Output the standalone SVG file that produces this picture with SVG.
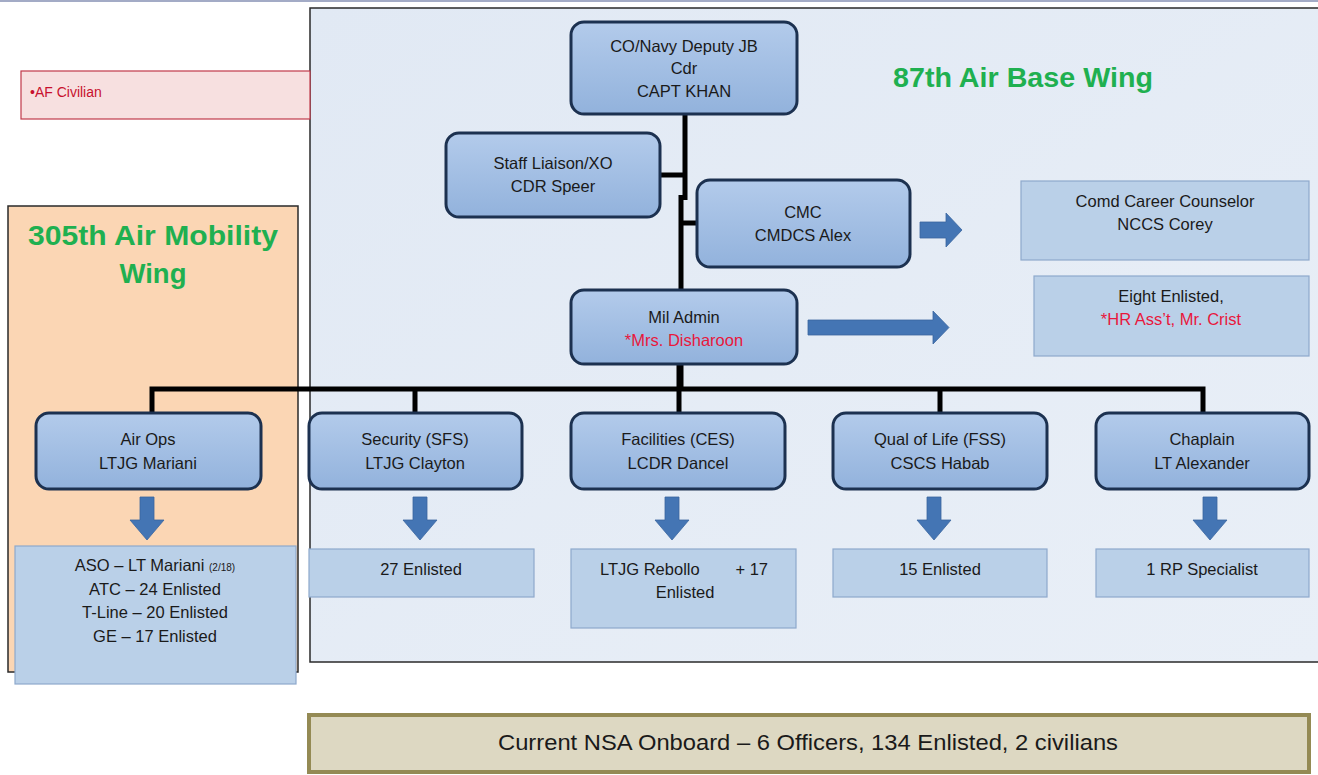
<svg xmlns="http://www.w3.org/2000/svg" width="1318" height="775" viewBox="0 0 1318 775">
<defs>
<linearGradient id="ng" x1="0" y1="0" x2="0" y2="1">
<stop offset="0" stop-color="#b3cbeb"/>
<stop offset="1" stop-color="#92b2dc"/>
</linearGradient>
<linearGradient id="pg" x1="0" y1="0" x2="1" y2="1">
<stop offset="0" stop-color="#e1e9f4"/>
<stop offset="1" stop-color="#e9eff7"/>
</linearGradient>
<style>
text{font-family:"Liberation Sans",Arial,sans-serif;font-size:16.5px;fill:#1a1a1a;text-anchor:middle}
.node{fill:url(#ng);stroke:#1c3150;stroke-width:3}
.data{fill:#bad0e8;stroke:#8ea9cc;stroke-width:1.2}
.red{fill:#e8173c}
.title{font-size:27.5px;font-weight:bold;fill:#1fb050}
.conn{stroke:#000;stroke-width:5;fill:none}
.arr{fill:#4475b4;stroke:#3a66a0;stroke-width:0.8}
</style>
</defs>
<rect x="0" y="0" width="1318" height="775" fill="#fff"/>
<line x1="0" y1="1" x2="1318" y2="1" stroke="#a3abc6" stroke-width="2"/>

<g id="panel-87">
<rect x="310" y="8" width="1012" height="654" fill="url(#pg)" stroke="#2a2a2a" stroke-width="1.5"/>
<text class="title" x="1023" y="87" textLength="260" lengthAdjust="spacingAndGlyphs">87th Air Base Wing</text>
</g>

<g id="af-civilian">
<rect x="21" y="71" width="289" height="48" fill="#f7e0e0" stroke="#c0394a" stroke-width="1.2"/>
<text x="30" y="97" style="text-anchor:start;font-size:14px;fill:#c8102e">•AF Civilian</text>
</g>

<g id="panel-305">
<rect x="8" y="206" width="290" height="466" fill="#fbd6b4" stroke="#2a2a2a" stroke-width="1.5"/>
<text class="title" x="153" y="245" textLength="250" lengthAdjust="spacingAndGlyphs">305th Air Mobility</text>
<text class="title" x="153" y="283">Wing</text>
</g>

<g id="connectors">
<path class="conn" d="M685 114 V200 M681 195 V391 M660 175 H685 M681 223 H697 M152 414 V389 H1203 V414 M415 389 V414 M679 364 V414 M940 389 V414"/>
</g>

<g id="arrows">
<path class="arr" d="M920 222 H946 V213 L962 230 L946 247 V238 H920 Z"/>
<path class="arr" d="M808 320 H933 V311 L949 327.5 L933 344 V335 H808 Z"/>
<path class="arr" d="M140 497 H154 V520 H164 L147 540 L130 520 H140 Z"/>
<path class="arr" d="M413 497 H427 V520 H437 L420 540 L403 520 H413 Z"/>
<path class="arr" d="M665 497 H679 V520 H689 L672 540 L655 520 H665 Z"/>
<path class="arr" d="M927 497 H941 V520 H951 L934 540 L917 520 H927 Z"/>
<path class="arr" d="M1203 497 H1217 V520 H1227 L1210 540 L1193 520 H1203 Z"/>
</g>

<g id="co">
<rect class="node" x="571" y="22" width="226" height="92" rx="13"/>
<text x="684" y="52">CO/Navy Deputy JB</text>
<text x="684" y="74">Cdr</text>
<text x="684" y="97">CAPT KHAN</text>
</g>

<g id="xo">
<rect class="node" x="446" y="133" width="214" height="84" rx="13"/>
<text x="553" y="169">Staff Liaison/XO</text>
<text x="553" y="192">CDR Speer</text>
</g>

<g id="cmc">
<rect class="node" x="697" y="180" width="213" height="87" rx="13"/>
<text x="803" y="218">CMC</text>
<text x="803" y="241">CMDCS Alex</text>
</g>

<g id="mil-admin">
<rect class="node" x="571" y="290" width="226" height="74" rx="13"/>
<text x="684" y="323">Mil Admin</text>
<text x="684" y="346" class="red">*Mrs. Disharoon</text>
</g>

<g id="counselor">
<rect class="data" x="1021" y="181" width="288" height="79"/>
<text x="1165" y="207">Comd Career Counselor</text>
<text x="1165" y="230">NCCS Corey</text>
</g>

<g id="eight-enlisted">
<rect class="data" x="1034" y="276" width="275" height="80"/>
<text x="1171" y="302">Eight Enlisted,</text>
<text x="1171" y="325" class="red">*HR Ass’t, Mr. Crist</text>
</g>

<g id="air-ops">
<rect class="node" x="36" y="413" width="225" height="76" rx="13"/>
<text x="148" y="445">Air Ops</text>
<text x="148" y="469">LTJG Mariani</text>
</g>

<g id="security">
<rect class="node" x="309" y="413" width="213" height="76" rx="13"/>
<text x="415" y="445">Security (SFS)</text>
<text x="415" y="469">LTJG Clayton</text>
</g>

<g id="facilities">
<rect class="node" x="571" y="413" width="214" height="76" rx="13"/>
<text x="678" y="445">Facilities (CES)</text>
<text x="678" y="469">LCDR Dancel</text>
</g>

<g id="qual-of-life">
<rect class="node" x="833" y="413" width="214" height="76" rx="13"/>
<text x="940" y="445">Qual of Life (FSS)</text>
<text x="940" y="469">CSCS Habab</text>
</g>

<g id="chaplain">
<rect class="node" x="1096" y="413" width="213" height="76" rx="13"/>
<text x="1202" y="445">Chaplain</text>
<text x="1202" y="469">LT Alexander</text>
</g>

<g id="aso">
<rect class="data" x="15" y="546" width="281" height="138"/>
<text x="155" y="571">ASO – LT Mariani <tspan style="font-size:10px">(2/18)</tspan></text>
<text x="155" y="595">ATC –  24 Enlisted</text>
<text x="155" y="618">T-Line – 20 Enlisted</text>
<text x="155" y="642">GE – 17 Enlisted</text>
</g>

<g id="sfs-enlisted">
<rect class="data" x="309" y="549" width="225" height="48"/>
<text x="421" y="575">27 Enlisted</text>
</g>

<g id="ces-enlisted">
<rect class="data" x="571" y="549" width="225" height="79"/>
<text x="600" y="575" style="text-anchor:start">LTJG Rebollo</text>
<text x="768" y="575" style="text-anchor:end">+ 17</text>
<text x="685" y="598">Enlisted</text>
</g>

<g id="fss-enlisted">
<rect class="data" x="833" y="549" width="214" height="48"/>
<text x="940" y="575">15 Enlisted</text>
</g>

<g id="chaplain-staff">
<rect class="data" x="1096" y="549" width="213" height="48"/>
<text x="1202" y="575">1 RP Specialist</text>
</g>

<g id="summary">
<rect x="309" y="715" width="1000" height="57" fill="#ddd8c2" stroke="#948a54" stroke-width="4"/>
<text x="808" y="750" style="font-size:21.5px" textLength="620" lengthAdjust="spacingAndGlyphs">Current NSA Onboard – 6 Officers, 134 Enlisted, 2 civilians</text>
</g>
</svg>
